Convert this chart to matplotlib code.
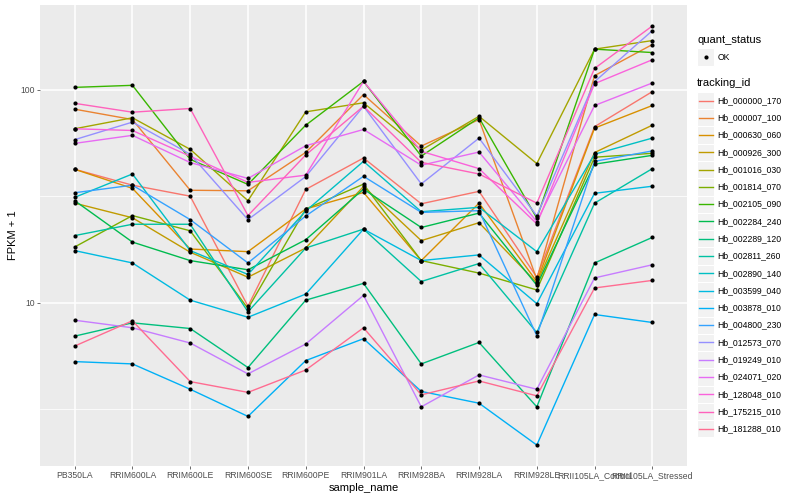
import matplotlib
matplotlib.use("Agg")
import matplotlib.pyplot as plt
import numpy as np
from matplotlib.patches import Rectangle
from matplotlib.ticker import NullFormatter, FixedLocator

plt.rcParams['font.family'] = ['Liberation Sans', 'DejaVu Sans']

samples = ["PB350LA", "RRIM600LA", "RRIM600LE", "RRIM600SE", "RRIM600PE", "RRIM901LA",
           "RRIM928BA", "RRIM928LA", "RRIM928LE", "RRII105LA_Control", "RRII105LA_Stressed"]

tracking_ids = ["Hb_000000_170", "Hb_000007_100", "Hb_000630_060", "Hb_000926_300",
                "Hb_001016_030", "Hb_001814_070", "Hb_002105_090", "Hb_002284_240",
                "Hb_002289_120", "Hb_002811_260", "Hb_002890_140", "Hb_003599_040",
                "Hb_003878_010", "Hb_004800_230", "Hb_012573_070", "Hb_019249_010",
                "Hb_024071_020", "Hb_128048_010", "Hb_175215_010", "Hb_181288_010"]

# ggplot hue palette for 20 levels
colors = ["#F8766D", "#EA8331", "#D89000", "#C09B00", "#A3A500", "#7CAE00", "#39B600",
          "#00BB4E", "#00BF7D", "#00C1A3", "#00BFC4", "#00BAE0", "#00B0F6", "#35A2FF",
          "#9590FF", "#C77CFF", "#E76BF3", "#FA62DB", "#FF62BC", "#FF6C91"]

# FPKM + 1 per sample
hb_000000_170 = [42.4, 35.7, 31.7, 9.64, 34.1, 47.9, 29.2, 33.4, 13.2, 67.2, 98.2]
hb_000007_100 = [81.2, 72.6, 33.8, 33.6, 50.9, 95.1, 54.5, 72.6, 12.9, 116.7, 163.4]
hb_000630_060 = [42.4, 34.5, 17.9, 17.4, 27.6, 33.0, 15.8, 29.4, 12.6, 66.2, 84.5]
hb_000926_300 = [29.4, 25.1, 17.3, 13.2, 18.1, 35.2, 19.6, 23.8, 12.4, 50.8, 68.3]
hb_001016_030 = [65.7, 74.0, 52.6, 30.2, 78.9, 87.0, 52.2, 75.2, 45.1, 155.4, 170.5]
hb_001814_070 = [18.3, 25.7, 21.8, 9.41, 27.6, 36.1, 15.8, 13.8, 11.5, 48.3, 50.4]
hb_002105_090 = [102.8, 105.1, 47.2, 36.0, 68.3, 109.7, 48.9, 74.0, 25.0, 155.4, 149.8]
hb_002284_240 = [30.2, 19.3, 15.8, 14.3, 19.8, 34.2, 22.6, 26.4, 12.1, 44.8, 49.3]
hb_002289_120 = [6.98, 8.06, 7.58, 4.97, 10.3, 12.35, 5.17, 6.52, 3.25, 15.4, 20.3]
hb_002811_260 = [20.7, 23.4, 23.4, 9.08, 18.1, 22.2, 12.6, 15.3, 7.26, 29.4, 42.7]
hb_002890_140 = [31.3, 40.3, 17.6, 13.6, 27.0, 46.2, 26.8, 28.1, 17.4, 49.9, 59.4]
hb_003599_040 = [17.6, 15.4, 10.3, 8.56, 11.0, 22.2, 15.8, 16.8, 9.92, 32.7, 35.3]
hb_003878_010 = [5.30, 5.17, 3.93, 2.93, 5.36, 6.79, 3.84, 3.38, 2.15, 8.82, 8.09]
hb_004800_230 = [32.9, 35.7, 24.6, 15.4, 25.6, 39.3, 26.6, 27.1, 7.01, 46.2, 51.7]
hb_012573_070 = [58.4, 70.6, 49.9, 24.6, 39.2, 83.8, 36.2, 59.4, 25.6, 109.3, 189.9]
hb_019249_010 = [8.29, 7.64, 6.48, 4.64, 6.41, 10.85, 3.25, 4.59, 3.93, 13.1, 15.1]
hb_024071_020 = [56.1, 61.2, 45.6, 38.4, 54.7, 65.2, 44.3, 51.1, 24.1, 84.5, 107.8]
hb_128048_010 = [65.7, 64.5, 48.8, 36.8, 39.8, 109.7, 51.5, 42.7, 23.5, 107.0, 138.6]
hb_175215_010 = [86.5, 78.6, 81.8, 25.7, 49.5, 83.8, 45.7, 40.3, 29.4, 126.2, 199.7]
hb_181288_010 = [6.27, 8.24, 4.27, 3.80, 4.84, 7.64, 3.70, 4.30, 3.66, 11.75, 12.75]

series = [hb_000000_170, hb_000007_100, hb_000630_060, hb_000926_300, hb_001016_030,
          hb_001814_070, hb_002105_090, hb_002284_240, hb_002289_120, hb_002811_260,
          hb_002890_140, hb_003599_040, hb_003878_010, hb_004800_230, hb_012573_070,
          hb_019249_010, hb_024071_020, hb_128048_010, hb_175215_010, hb_181288_010]

fig = plt.figure(figsize=(8, 5), dpi=100)
ax = fig.add_axes([40 / 800, 1 - 466 / 500, 647 / 800, 461 / 500])
ax.set_facecolor("#EBEBEB")
for s in ax.spines.values():
    s.set_visible(False)

x = np.arange(len(samples))
for vals, c in zip(series, colors):
    ax.plot(x, vals, color=c, lw=1.0, zorder=2)
for vals in series:
    ax.plot(x, vals, ls="none", marker="o", ms=3.0, mew=0, color="black", zorder=3)

ax.set_yscale("log")
ax.set_xlim(-0.6, len(samples) - 0.4)
ax.margins(y=0.05)
ax.yaxis.set_major_locator(FixedLocator([10, 100]))
ax.yaxis.set_minor_locator(FixedLocator([10 ** 0.5, 10 ** 1.5, 10 ** 2.5]))
ax.yaxis.set_major_formatter(plt.FuncFormatter(lambda v, p: "%d" % v))
ax.yaxis.set_minor_formatter(NullFormatter())
ax.set_xticks(x)
ax.set_xticklabels(samples)

ax.grid(which="major", color="white", lw=1.1, zorder=0)
ax.grid(which="minor", axis="y", color="white", lw=0.55, zorder=0)
ax.set_axisbelow(True)
ax.tick_params(which="major", length=2.2, width=0.5, color="#333333",
               labelcolor="#4D4D4D", labelsize=6.2, pad=1.5)
ax.tick_params(which="minor", length=0)

ax.set_xlabel("sample_name", fontsize=8, labelpad=2)
ax.set_ylabel("FPKM + 1", fontsize=8, labelpad=1.5)

# legend drawn in pixel coordinates
lax = fig.add_axes([0, 0, 1, 1])
lax.set_xlim(0, 800)
lax.set_ylim(500, 0)
lax.axis("off")
key = 17.28
kx = 697
lax.text(kx, 40, "quant_status", fontsize=8, va="center", ha="left")
lax.add_patch(Rectangle((kx, 57 - key / 2), key, key, facecolor="#F2F2F2", edgecolor="white", lw=0.8))
lax.plot([kx + key / 2], [57], marker="o", ms=3.0, mew=0, color="black")
lax.text(kx + key + 3, 57, "OK", fontsize=6.2, va="center", ha="left")

lax.text(kx, 83, "tracking_id", fontsize=8, va="center", ha="left")
for i, (tid, c) in enumerate(zip(tracking_ids, colors)):
    yc = 100.5 + i * key
    lax.add_patch(Rectangle((kx, yc - key / 2), key, key, facecolor="#F2F2F2", edgecolor="white", lw=0.8))
    lax.plot([kx + 1.7, kx + key - 1.7], [yc, yc], color=c, lw=1.0)
    lax.text(kx + key + 3, yc, tid, fontsize=6.2, va="center", ha="left")

fig.savefig("out.png", dpi=100)
